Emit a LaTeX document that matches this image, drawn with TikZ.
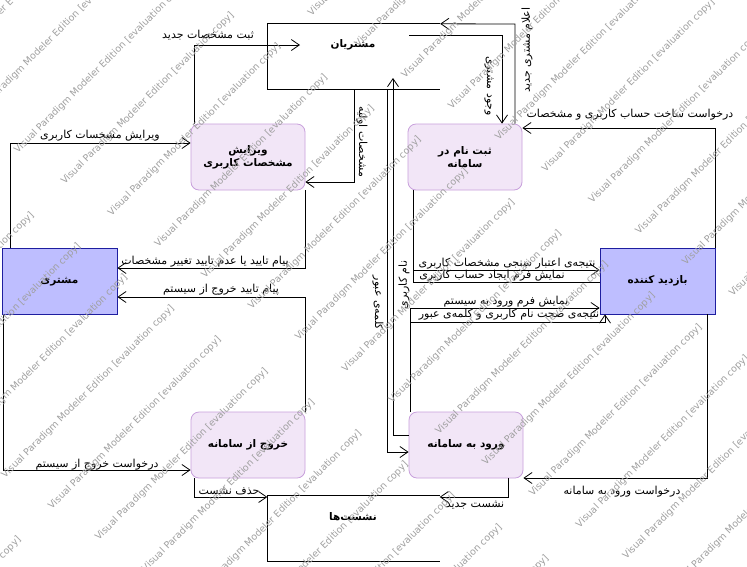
\documentclass[tikz,border=0pt]{standalone}
\usepackage{fontspec}
\setmainfont{DejaVu Sans}
\newfontfamily\persianfont[Script=Arabic]{DejaVu Sans}
\TeXXeTstate=1
\usetikzlibrary{arrows.meta}
\newcommand\fa[1]{{\persianfont\beginR#1\endR}}

\definecolor{procfill}{RGB}{242,230,247}
\definecolor{procline}{RGB}{200,160,220}
\definecolor{entfill}{RGB}{190,190,255}
\definecolor{entline}{RGB}{30,30,160}
\definecolor{wmark}{RGB}{160,160,160}

\tikzset{
  proc/.style={draw=procline, fill=procfill, rounded corners=8pt, line width=0.8pt,
    minimum width=114pt, minimum height=66pt, inner sep=0pt, align=center,
    font=\bfseries\fontsize{10.5}{13}\selectfont},
  entity/.style={draw=entline, fill=entfill, line width=0.8pt,
    minimum width=115pt, minimum height=66pt, inner sep=0pt,
    font=\bfseries\fontsize{10.5}{12}\selectfont},
  store/.style={minimum width=172pt, minimum height=65pt, inner sep=0pt},
  storeline/.style={line width=0.8pt},
  storetext/.style={font=\bfseries\fontsize{10.5}{12}\selectfont, inner sep=0pt},
  flow/.style={line width=0.8pt, -{Straight Barb[length=8pt,width=11pt,line width=0.8pt]}},
  plainflow/.style={line width=0.8pt},
  lbl/.style={font=\fontsize{11}{12}\selectfont, inner sep=0pt},
  wm/.style={font=\fontsize{9.5}{10}\selectfont, text=wmark, rotate=45, inner sep=0pt},
}

\begin{document}
\begin{tikzpicture}[x=1pt,y=-1pt]
\fill[white] (0,0) rectangle (747,566);
\useasboundingbox (0,0) rectangle (747,566);

% processes
\node[proc] (edit) at (248,157) {\fa{ویرایش}\\\fa{مشخصات کاربری}};
\node[proc] (reg) at (465,157) {\fa{ثبت نام در}\\\fa{سامانه}};
\node[proc] (logout) at (248,445) {\fa{خروج از سامانه}};
\node[proc] (login) at (466,445) {\fa{ورود به سامانه}};

% external entities
\node[entity] (cust) at (59.5,281.5) {\fa{مشتری}};
\node[entity] (visitor) at (657.5,281) {\fa{بازدید کننده}};

% data stores
\node[store] (cdb) at (354,56.5) {};
\draw[storeline] (cdb.north east) -- (cdb.north west) -- (cdb.south west) -- (cdb.south east);
\node[storetext] (cdbtxt) at (353,45) {\fa{مشتریان}};
\node[store] (sdb) at (353.5,528.5) {};
\draw[storeline] (sdb.north east) -- (sdb.north west) -- (sdb.south west) -- (sdb.south east);
\node[storetext] (sdbtxt) at (353,517) {\fa{نشست‌ها}};

% data flows
\coordinate (f1a) at (194,45);
\coordinate (f1b) at (300,45);
\draw[flow] (edit.north -| f1a) -- (f1a) -- (f1b);

\coordinate (f2) at (354,182);
\draw[flow] (cdb.south -| f2) -- (f2) -- (edit.east |- f2);

\coordinate (f3) at (515,24);
\draw[flow] (reg.north -| f3) -- (f3) -- (cdb.north east);

\coordinate (f4a) at (409,35);
\coordinate (f4b) at (502,35);
\draw[flow] (f4a) -- (f4b) -- (reg.north -| f4b);

\coordinate (f5a) at (393,435);
\coordinate (f5b) at (393,78);
\draw[flow] (login.west |- f5a) -- (f5a) -- (f5b);

\coordinate (f6) at (387,452);
\draw[flow] (cdb.south -| f6) -- (f6) -- (login.west |- f6);

\coordinate (f7) at (10,143);
\draw[flow] (cust.north -| f7) -- (f7) -- (edit.west |- f7);

\coordinate (f8) at (305,268);
\draw[flow] (edit.south -| f8) -- (f8) -- (cust.east |- f8);

\coordinate (f9) at (305,297);
\draw[flow] (logout.north -| f9) -- (f9) -- (cust.east |- f9);

\coordinate (f10) at (3,470);
\draw[flow] (cust.south -| f10) -- (f10) -- (logout.west |- f10);

\coordinate (f11) at (194,497);
\draw[flow] (logout.south -| f11) -- (f11) -- (sdb.west |- f11);

\coordinate (f12) at (508,497);
\draw[flow] (login.south -| f12) -- (f12) -- (sdb.east |- f12);

\coordinate (f13) at (707,478);
\draw[flow] (visitor.south -| f13) -- (f13) -- (login.east |- f13);

\coordinate (f14) at (715,128);
\draw[flow] (visitor.north -| f14) -- (f14) -- (reg.east |- f14);

\coordinate (f15) at (413,270);
\draw[flow] (reg.south -| f15) -- (f15) -- (visitor.west |- f15);

\coordinate (f16) at (413,282);
\draw[plainflow] (reg.south -| f16) -- (f16) -- (visitor.west |- f16);

\coordinate (f17) at (410,308);
\draw[flow] (login.north -| f17) -- (f17) -- (visitor.west |- f17);

\coordinate (f18a) at (410,322);
\coordinate (f18b) at (605,322);
\draw[flow] (login.north -| f18a) -- (f18a) -- (f18b) -- (visitor.south -| f18b);

% flow labels
\node[lbl] (l1) at (208,35) {\fa{ثبت مشخصات جدید}};
\node[lbl, rotate=-90] (l2) at (362,142) {\fa{مشخصات اولیه}};
\node[lbl, rotate=90] (l3) at (527,50) {\fa{اعلام مشتری جدید}};
\node[lbl, rotate=-90] (l4) at (489,86) {\fa{وجود مشتری}};
\node[lbl, rotate=90] (l5) at (404,285) {\fa{نام کاربری}};
\node[lbl, rotate=-90] (l6) at (378,303) {\fa{کلمه‌ی عبور}};
\node[lbl] (l7) at (100,136) {\fa{ویرایش مشخسات کاربری}};
\node[lbl] (l8) at (205,262) {\fa{پیام تایید یا عدم تایید تغییر مشخصات}};
\node[lbl] (l9) at (221,290) {\fa{پیام تایید خروج از سیستم}};
\node[lbl] (l10) at (97,465) {\fa{درخواست خروج از سیستم}};
\node[lbl] (l11) at (229,491) {\fa{حذف نشست}};
\node[lbl] (l12) at (475,505) {\fa{نشست جدید}};
\node[lbl] (l13) at (622,492) {\fa{درخواست ورود به سامانه}};
\node[lbl] (l14) at (630,115) {\fa{درخواست ساخت حساب کاربری و مشخصات}};
\node[lbl] (l15) at (507,264) {\fa{نتیجه‌ی اعتبار سنجی مشخصات کاربری}};
\node[lbl] (l16) at (492,276) {\fa{نمایش فرم ایجاد حساب کاربری}};
\node[lbl] (l17) at (506,302) {\fa{نمایش فرم ورود به سیستم}};
\node[lbl] (l18) at (509,315) {\fa{نتیجه‌ی صحت نام کاربری و کلمه‌ی عبور}};

% evaluation watermark tiled over the sheet (only copies that reach the sheet)
\begin{scope}
\clip (0,0) rectangle (747,566);
\foreach \c in {-144,-66,...,1450} {
  \foreach \k in {-5,...,7} {
    \pgfmathsetmacro\xx{\k*200+mod(\c*0.6,200)}
    \pgfmathsetmacro\yy{\c-\xx}
    \pgfmathtruncatemacro\onsheet{(\xx>-80)&&(\xx<830)&&(\yy>-80)&&(\yy<650)}
    \ifnum\onsheet=1
      \node[wm] (wm\c:\k) at (\xx,\yy) {Visual Paradigm Modeler Edition [evaluation copy]};
    \fi
  }
}
\end{scope}
\end{tikzpicture}
\end{document}
